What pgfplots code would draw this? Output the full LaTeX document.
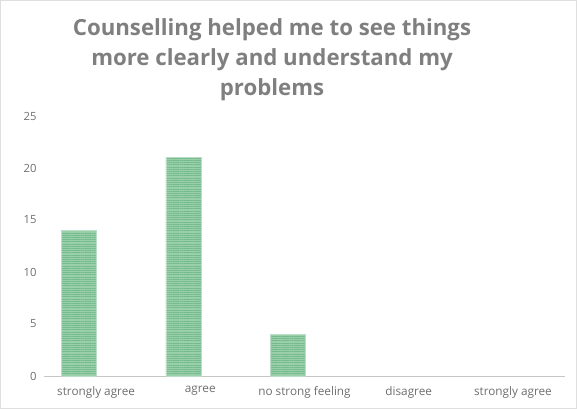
\documentclass[border=0pt]{standalone}
\usepackage{pgfplots}
\pgfplotsset{compat=1.18}
\usetikzlibrary{patterns.meta}
\usepackage{fontspec}
\setmainfont{Open Sans}
\definecolor{barfill}{HTML}{9ACFAB}
\definecolor{barline}{HTML}{74BA8C}
\definecolor{txt}{HTML}{6E6E6E}
\definecolor{ttl}{HTML}{7F7F7F}
\begin{document}
\begin{tikzpicture}
\path[use as bounding box] (0,0) rectangle (577bp,409bp);
\draw[gray!25, line width=0.8bp] (0.4bp,0.4bp) rectangle (576.6bp,408.6bp);
\node[align=center, text=ttl, font=\bfseries\fontsize{22.3}{30}\selectfont] at (272bp,349bp)
 {Counselling helped me to see things\\more clearly and understand my\\problems};
\begin{axis}[
  at={(44bp,33bp)}, anchor=south west,
  scale only axis, width=521bp, height=260bp,
  xmin=-0.5, xmax=4.5, ymin=0, ymax=25,
  xtick={0,1,2,3,4},
  xticklabels={strongly agree, agree, no strong feeling, disagree, strongly agree},
  ytick={0,5,10,15,20,25},
  axis lines*=left,
  y axis line style={draw=none},
  x axis line style={draw=gray!45, line width=1bp},
  major tick length=0pt,
  tick label style={text=txt},
  xticklabel style={font=\fontsize{11.8}{13}\selectfont, yshift=-7bp},
  yticklabel style={font=\fontsize{11.3}{13}\selectfont, xshift=-4bp},
  /pgf/number format/assume math mode=true,
  clip=false,
]
\addplot[ybar, bar width=35bp, bar shift=-17bp, fill=barfill, draw=barline!50, line width=0.4bp,
  postaction={pattern={Lines[angle=0, distance=2.2bp, line width=0.7bp]}, pattern color=barline}]
  coordinates {(0,14) (1,21) (2,4)};
\end{axis}
\end{tikzpicture}
\end{document}
